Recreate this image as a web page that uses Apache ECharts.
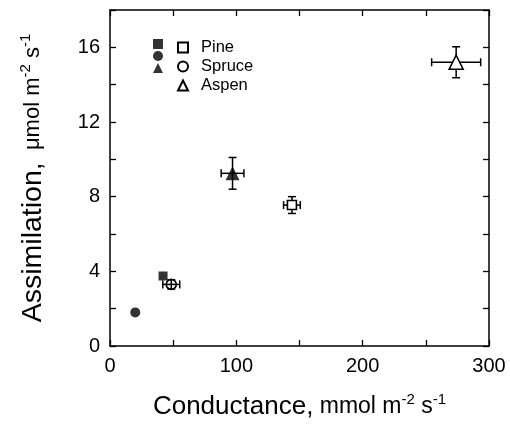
<!DOCTYPE html>
<html>
<head>
<meta charset="utf-8">
<script src="https://cdn.jsdelivr.net/npm/echarts@6/dist/echarts.min.js"></script>
<style>
  html, body { margin: 0; padding: 0; background: #fff; }
  #chart { width: 510px; height: 427px; }
</style>
</head>
<body>
<div id="chart"></div>
<script>
// species
const species = ['Pine', 'Spruce', 'Aspen'];
// filled symbols
const closedX = [42, 20, 97];
const closedY = [3.75, 1.8, 9.25];
const closedXErr = [0, 0, 9];
const closedYErr = [0, 0, 0.85];
// open symbols
const openX = [144, 48.5, 274];
const openY = [7.55, 3.3, 15.2];
const openXErr = [6.6, 6.7, 19.4];
const openYErr = [0.45, 0.25, 0.83];
// tick labels
const xLabels = [0, 100, 200, 300];
const yLabels = [0, 4, 8, 12, 16];

const symbols = ['rect', 'circle', 'triangle'];
const symSizes = [9, 10, 14];
const FONT = '"Liberation Sans", Arial, sans-serif';

let chart = echarts.init(document.getElementById('chart'));

// error bars with small caps
function renderErr(params, api) {
    let x = api.value(0), y = api.value(1), ex = api.value(2), ey = api.value(3);
    let cap = 4;
    let style = { stroke: '#000', lineWidth: 1.5 };
    let kids = [];
    if (ex > 0) {
        let a = api.coord([x - ex, y]), b = api.coord([x + ex, y]);
        kids.push({ type: 'line', shape: { x1: a[0], y1: a[1], x2: b[0], y2: b[1] }, style: style });
        kids.push({ type: 'line', shape: { x1: a[0], y1: a[1] - cap, x2: a[0], y2: a[1] + cap }, style: style });
        kids.push({ type: 'line', shape: { x1: b[0], y1: b[1] - cap, x2: b[0], y2: b[1] + cap }, style: style });
    }
    if (ey > 0) {
        let a = api.coord([x, y - ey]), b = api.coord([x, y + ey]);
        kids.push({ type: 'line', shape: { x1: a[0], y1: a[1], x2: b[0], y2: b[1] }, style: style });
        kids.push({ type: 'line', shape: { x1: a[0] - cap, y1: a[1], x2: a[0] + cap, y2: a[1] }, style: style });
        kids.push({ type: 'line', shape: { x1: b[0] - cap, y1: b[1], x2: b[0] + cap, y2: b[1] }, style: style });
    }
    return { type: 'group', children: kids };
}

let errData = [];
for (let i = 0; i < species.length; i++) {
    errData.push([closedX[i], closedY[i], closedXErr[i], closedYErr[i]]);
    errData.push([openX[i], openY[i], openXErr[i], openYErr[i]]);
}

let series = [{
    type: 'custom',
    name: 'err',
    renderItem: renderErr,
    data: errData,
    z: 1,
    silent: true
}];
species.forEach(function (s, i) {
    series.push({
        type: 'scatter',
        name: s + ' ',
        symbol: symbols[i],
        symbolSize: symSizes[i],
        itemStyle: { color: '#000' },
        data: [[closedX[i], closedY[i]]],
        z: 3
    });
});
species.forEach(function (s, i) {
    series.push({
        type: 'scatter',
        name: s,
        symbol: symbols[i],
        symbolSize: symSizes[i],
        itemStyle: { color: i == 1 ? 'rgba(255,255,255,0)' : '#fff', borderColor: '#000', borderWidth: 1.6, opacity: 1 },
        data: [[openX[i], openY[i]]],
        z: 3
    });
});

// rich styles for titles with superscripts
function titleRich(big, small, sup) {
    return {
        a: { fontSize: big, fontFamily: FONT, color: '#000', lineHeight: 30 },
        b: { fontSize: small, fontFamily: FONT, color: '#000', lineHeight: 30 },
        s: { fontSize: sup, fontFamily: FONT, color: '#000', lineHeight: sup, verticalAlign: 'top' }
    };
}

let frameAxis = {
    axisLine: { show: true, onZero: false, lineStyle: { color: '#000', width: 1.5 } },
    axisTick: { show: true, inside: true, length: 6, lineStyle: { color: '#000', width: 1.3 } },
    splitLine: { show: false }
};

let option = {
    backgroundColor: '#fff',
    animation: false,
    grid: { left: 110, right: 21, top: 10, bottom: 81 },
    legend: [{
        left: 148, top: 34, orient: 'vertical',
        itemWidth: 10, itemHeight: 10, itemGap: 2,
        data: species.map(function (s) { return s + ' '; }),
        formatter: function () { return ''; },
        textStyle: { fontSize: 16 }
    }, {
        left: 172, top: 34, orient: 'vertical',
        itemWidth: 10, itemHeight: 10, itemGap: 2,
        data: species,
        textStyle: { fontSize: 16.5, fontFamily: FONT, color: '#000', padding: [0, 0, 0, 8] }
    }],
    xAxis: [Object.assign({}, frameAxis, {
        type: 'value', min: 0, max: 300, interval: 50,
        axisLabel: {
            fontSize: 20, fontFamily: FONT, color: '#000', margin: 10,
            formatter: function (v) { return xLabels.indexOf(v) >= 0 ? String(v) : ''; }
        },
        name: '{a|Conductance,}{b| mmol m}{s|-2}{b| s}{s|-1}',
        nameLocation: 'middle', nameGap: 46,
        nameTextStyle: { rich: titleRich(26, 23, 15) }
    }), Object.assign({}, frameAxis, {
        type: 'value', min: 0, max: 300, interval: 50, position: 'top',
        axisLabel: { show: false }
    })],
    yAxis: [Object.assign({}, frameAxis, {
        type: 'value', min: 0, max: 18, interval: 2,
        axisLabel: {
            fontSize: 20, fontFamily: FONT, color: '#000', margin: 10,
            formatter: function (v) { return yLabels.indexOf(v) >= 0 ? String(v) : ''; }
        },
        name: '{a|Assimilation,}{b|  \u03bcmol m}{s|-2}{b| s}{s|-1}',
        nameLocation: 'middle', nameGap: 62,
        nameTextStyle: { rich: titleRich(28.5, 22, 15) }
    }), Object.assign({}, frameAxis, {
        type: 'value', min: 0, max: 18, interval: 2, position: 'right',
        axisLabel: { show: false }
    })],
    series: series
};
chart.setOption(option, true);
</script>
</body>
</html>
